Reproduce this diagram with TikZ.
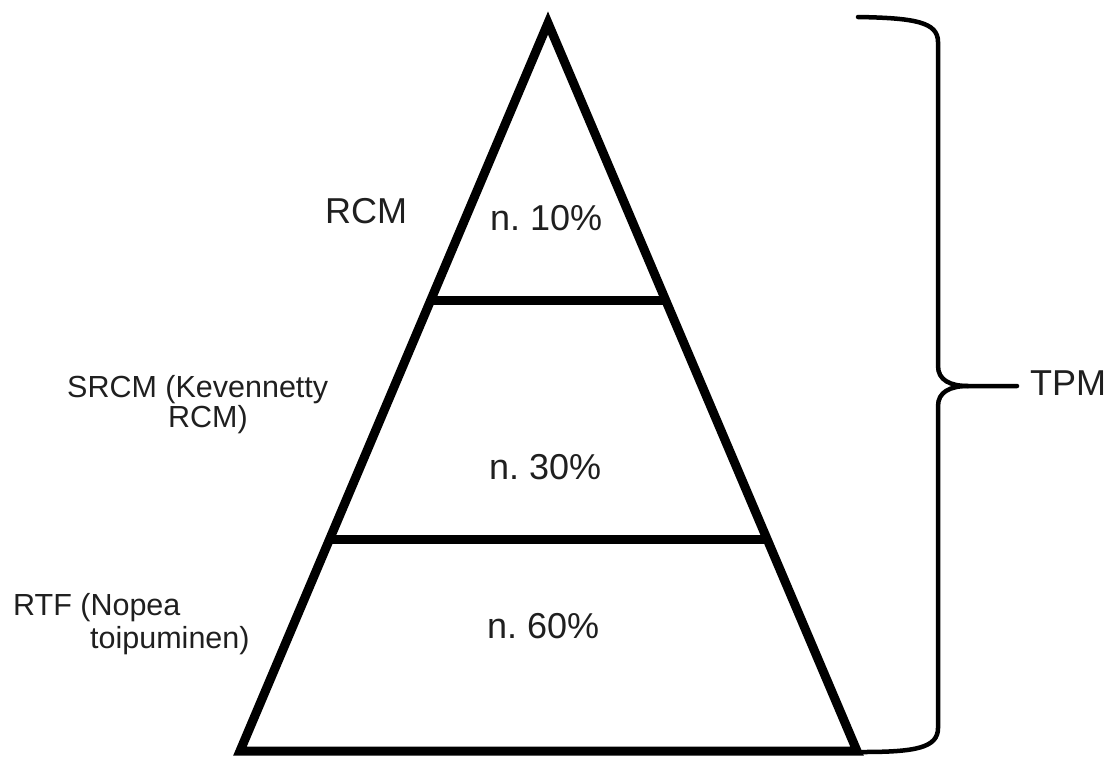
\documentclass[tikz,border=0pt]{standalone}
\usepackage{fontspec}
\setmainfont{Liberation Sans}
\usetikzlibrary{calc}
\frenchspacing
\begin{document}
\begin{tikzpicture}[x=1pt,y=-1pt,
  edge/.style={line width=9pt,line join=miter,black},
  brace/.style={line width=4.5pt,line cap=round,black},
  big/.style={inner sep=0pt,anchor=base west,text=black!88,font=\fontsize{36}{40}\selectfont},
  small/.style={inner sep=0pt,anchor=base west,text=black!88,font=\fontsize{30.5}{34}\selectfont}]
\useasboundingbox (0,0) rectangle (1113,756);
% triangle
\coordinate (apex) at (548,23);
\coordinate (bl) at (240,751);
\coordinate (br) at (857,751);
\draw[edge] (apex) -- (br) -- (bl) -- cycle;
\coordinate (l1) at ($(apex)!0.3805!(bl)$);
\coordinate (r1) at ($(apex)!0.3805!(br)$);
\coordinate (l2) at ($(apex)!0.7088!(bl)$);
\coordinate (r2) at ($(apex)!0.7088!(br)$);
\draw[edge] (l1) -- (r1);
\draw[edge] (l2) -- (r2);
% labels inside
\node[big] (p10) at (490,230) {n.\ 10\%};
\node[big] (p30) at (489,479) {n.\ 30\%};
\node[big] (p60) at (487,638) {n.\ 60\%};
% labels left
\node[big] (rcm) at (325,223) {RCM};
\node[small] (srcmA) at (67,397) {SRCM (Kevennetty};
\node[small] (srcmB) at (168,427) {RCM)};
\node[small] (rtfA) at (13,615) {RTF (Nopea};
\node[small] (rtfB) at (90,648) {toipuminen)};
% brace
\coordinate (btop) at (858,17);
\coordinate (bbot) at (862,752);
\coordinate (tip) at (968,386);
\coordinate (tend) at (1017,386);
\draw[brace] (btop) .. controls (915,18) and (938,22) .. (938,42)
  -- (938,366) .. controls (938,380) and (950,386) .. (tip) -- (tend);
\draw[brace] (tip) .. controls (950,386) and (938,392) .. (938,406)
  -- (938,728) .. controls (938,748) and (915,752) .. (bbot);
\node[big] (tpm) at (1030,395) {TPM};
\end{tikzpicture}
\end{document}
